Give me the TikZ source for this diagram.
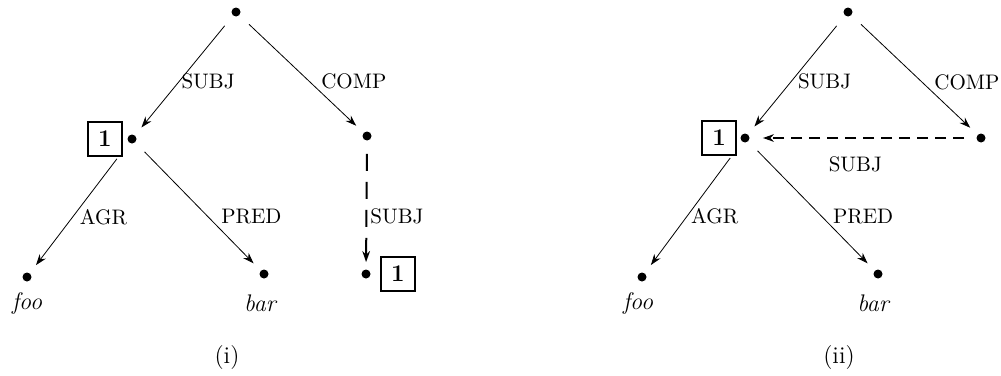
\documentclass[tikz,border=0pt]{standalone}
\usepackage{amsmath}
\usepackage{amssymb}
\usepackage{tikz}
\usetikzlibrary{positioning,arrows.meta}

\tikzset{
  dotnode/.style={circle, fill, inner sep=0pt, minimum size=4.5pt},
  tagbox/.style={draw, line width=1pt, minimum size=17pt, inner sep=0pt, font=\large\bfseries},
  lbl/.style={inner sep=1pt, font=\fontsize{10.5pt}{12pt}\selectfont},
  word/.style={font=\large\itshape},
  featarrow/.style={->, shorten <=6.5pt, shorten >=5pt},
  sharearrow/.style={featarrow, line width=1pt, dash pattern=on 5.5pt off 3.5pt},
}

\begin{document}
\begin{tikzpicture}[x=0.5pt, y=-0.5pt, >={Stealth[length=5.5pt,width=3.8pt]}]
        \useasboundingbox (0,0) rectangle (1001,375);
        % (i)
        \node [dotnode] (3) at (236,12) {};
        \node [dotnode] (2) at (132,139) {};
        \node [tagbox, left of=2, node distance=13.5pt] (1) {1};
        \node [dotnode] (4) at (367,136) {};
        \node [dotnode] (5) at (27,277) {};
        \node [dotnode] (6) at (264,274) {};
        \node [dotnode] (7) at (366,274) {};
        \node [tagbox, right of=7, node distance=16pt] (8) {1};
        \node [word, below of=5, node distance=13pt] (foo1) {foo};
        \node [word, below of=6, node distance=14.5pt, xshift=-2pt] (bar1) {bar};
        \node [font=\large] (cap1) at (227,358) {(i)};

        \draw[featarrow] (3) -- node [lbl, right=0pt, pos=0.55] {SUBJ} (2);
        \draw[featarrow] (3) -- node [lbl, right=5pt, pos=0.56] {COMP} (4);
        \draw[featarrow, shorten <=10pt] (2) -- node [lbl, right=2.5pt, pos=0.57] {AGR} (5);
        \draw[featarrow] (2) -- node [lbl, right=5.5pt, pos=0.58] {PRED} (6);
        \draw[sharearrow, dash pattern=on 8.5pt off 5.5pt, shorten >=3.5pt] (4) -- node [lbl, right=0.5pt, pos=0.59] {SUBJ} (7);

        % (ii)
        \node [dotnode] (11) at (848,12) {};
        \node [dotnode] (10) at (745,138) {};
        \node [tagbox, left of=10, node distance=13pt] (9) {1};
        \node [dotnode] (12) at (981,138) {};
        \node [dotnode] (13) at (642,277) {};
        \node [dotnode] (14) at (878,274) {};
        \node [word, below of=13, node distance=13pt, xshift=-2pt] (foo2) {foo};
        \node [word, below of=14, node distance=14.5pt, xshift=-2.5pt] (bar2) {bar};
        \node [font=\large] (cap2) at (839,358) {(ii)};

        \draw[featarrow] (11) -- node [lbl, right=2pt, pos=0.55] {SUBJ} (10);
        \draw[featarrow] (11) -- node [lbl, right=5pt, pos=0.56] {COMP} (12);
        \draw[featarrow, shorten <=10pt] (10) -- node [lbl, right=1pt, pos=0.57] {AGR} (13);
        \draw[featarrow] (10) -- node [lbl, right=4.5pt, pos=0.58] {PRED} (14);
        \draw[sharearrow, shorten <=6pt, shorten >=6.5pt] (12) -- node [lbl, below=8pt, pos=0.534] {SUBJ} (10);
      \end{tikzpicture}
\end{document}
